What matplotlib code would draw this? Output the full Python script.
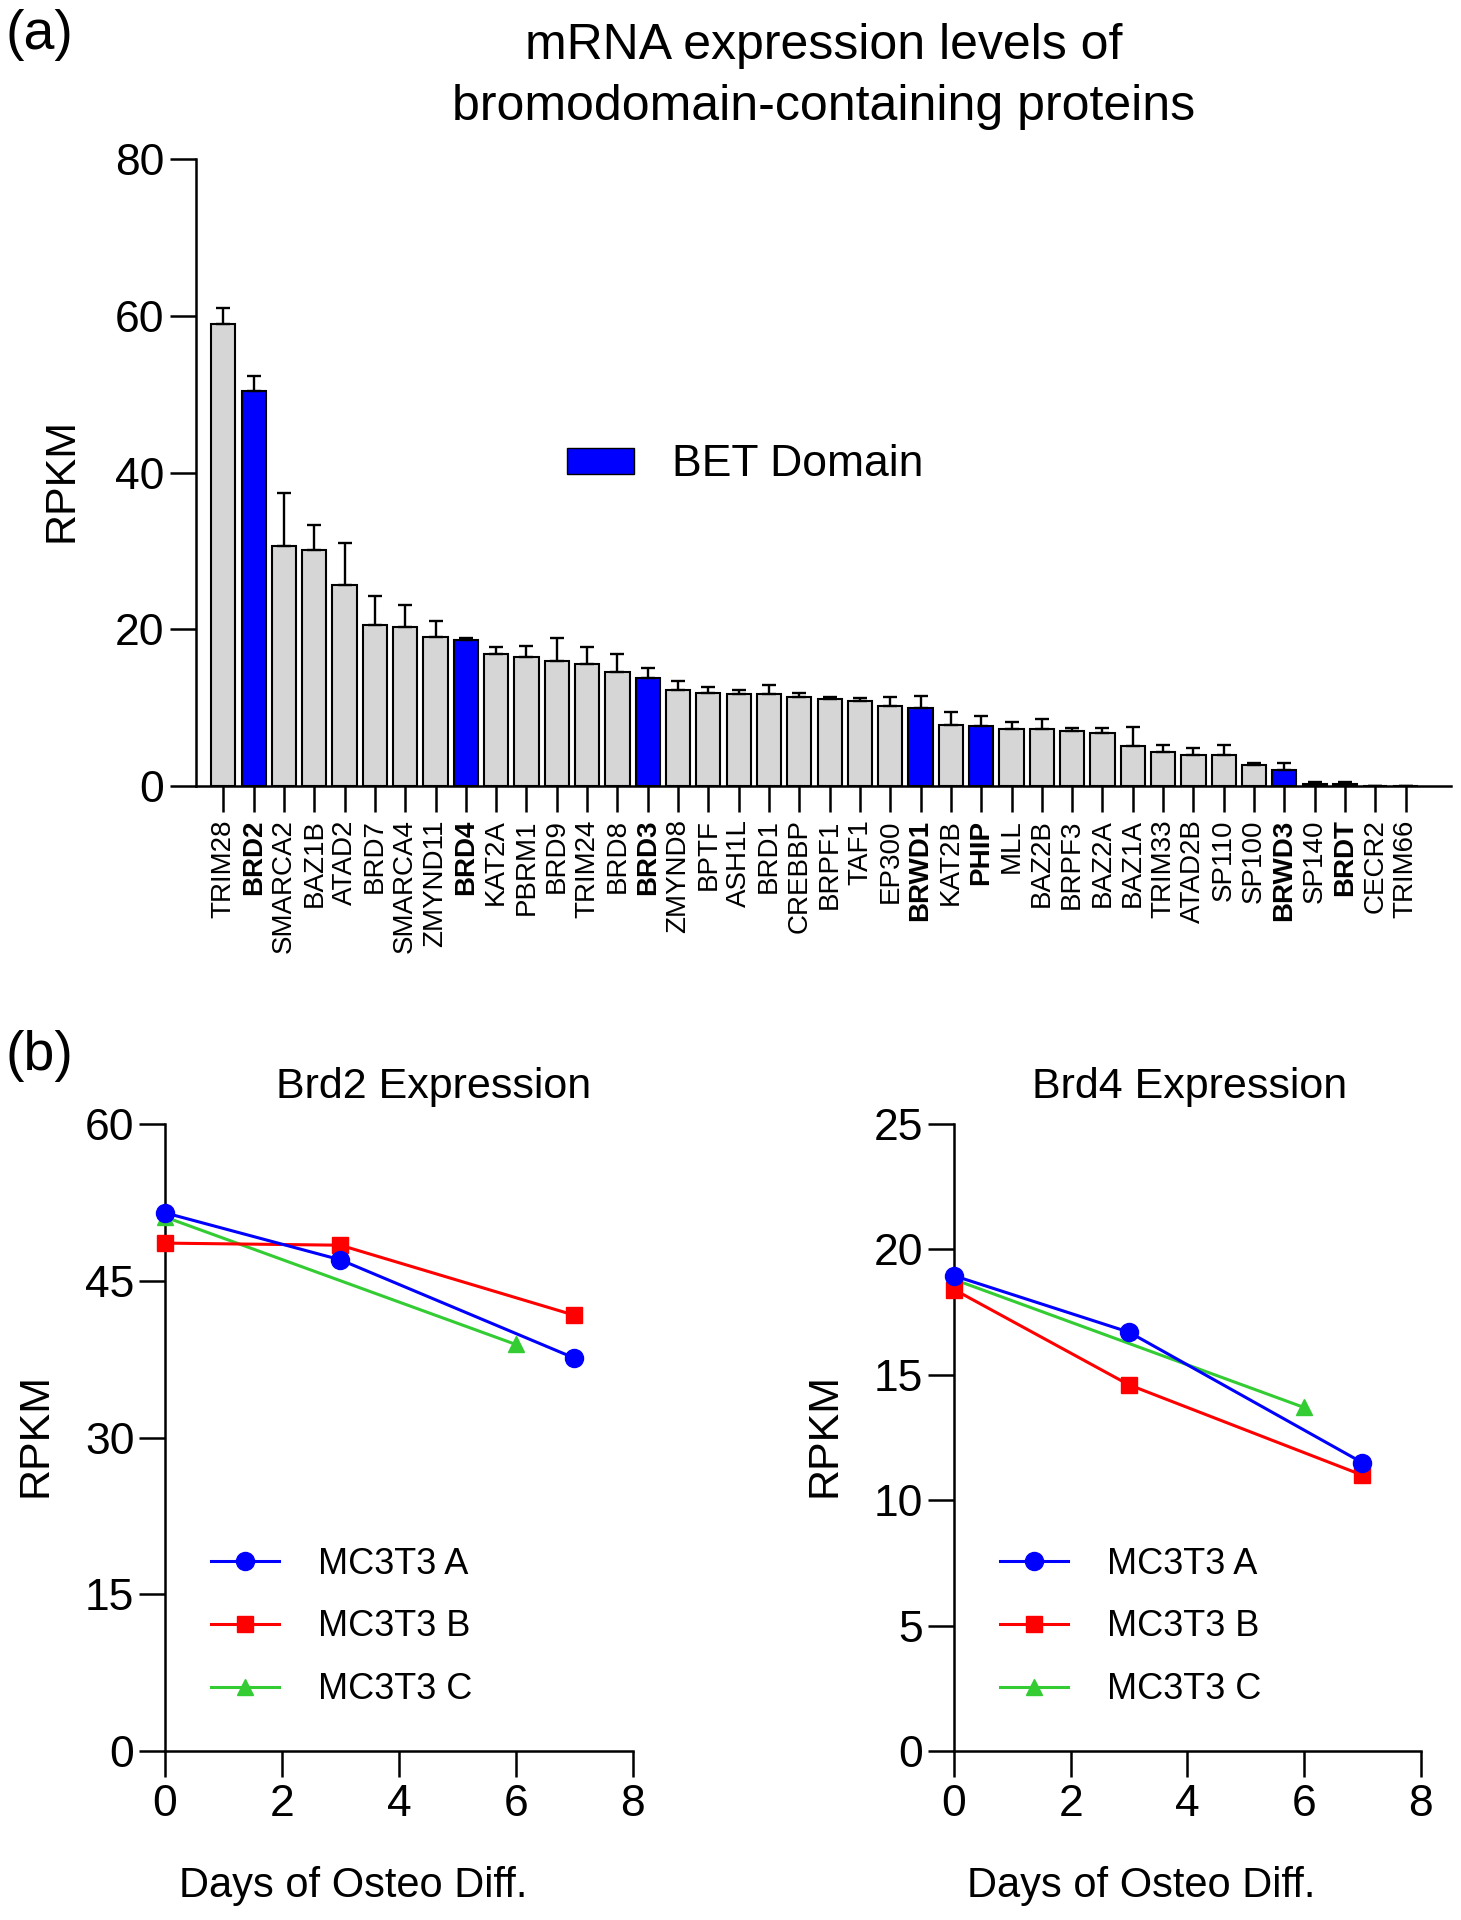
import numpy as np
import matplotlib
matplotlib.use("Agg")
import matplotlib.pyplot as plt
from matplotlib.patches import Patch

plt.rcParams['font.family'] = ['Liberation Sans', 'DejaVu Sans']

# (a) bromodomain genes, RPKM mean and upper error
genes = ['TRIM28', 'BRD2', 'SMARCA2', 'BAZ1B', 'ATAD2', 'BRD7', 'SMARCA4', 'ZMYND11',
         'BRD4', 'KAT2A', 'PBRM1', 'BRD9', 'TRIM24', 'BRD8', 'BRD3', 'ZMYND8', 'BPTF',
         'ASH1L', 'BRD1', 'CREBBP', 'BRPF1', 'TAF1', 'EP300', 'BRWD1', 'KAT2B', 'PHIP',
         'MLL', 'BAZ2B', 'BRPF3', 'BAZ2A', 'BAZ1A', 'TRIM33', 'ATAD2B', 'SP110', 'SP100',
         'BRWD3', 'SP140', 'BRDT', 'CECR2', 'TRIM66']
rpkm = [59.0, 50.4, 30.6, 30.1, 25.6, 20.6, 20.3, 19.0, 18.6, 16.8, 16.4, 16.0, 15.6,
        14.5, 13.8, 12.2, 11.9, 11.8, 11.8, 11.4, 11.1, 10.8, 10.2, 9.9, 7.8, 7.7, 7.3,
        7.3, 7.0, 6.8, 5.1, 4.4, 4.0, 4.0, 2.7, 2.0, 0.3, 0.3, 0.0, 0.0]
err = [2.0, 1.9, 6.8, 3.2, 5.4, 3.7, 2.8, 2.0, 0.3, 1.0, 1.5, 2.9, 2.2, 2.4, 1.3, 1.2,
       0.7, 0.5, 1.1, 0.5, 0.3, 0.4, 1.2, 1.6, 1.6, 1.2, 0.9, 1.3, 0.4, 0.6, 2.4, 0.8,
       0.9, 1.3, 0.2, 0.9, 0.2, 0.2, 0.0, 0.0]
bet = ['BRD2', 'BRD4', 'BRD3', 'BRWD1', 'PHIP', 'BRWD3', 'BRDT']

# (b) time course
days_ab = [0, 3, 7]
days_c = [0, 6]
brd2_a = [51.5, 47.0, 37.6]
brd2_b = [48.6, 48.4, 41.7]
brd2_c = [51.1, 38.9]
brd4_a = [18.95, 16.7, 11.5]
brd4_b = [18.4, 14.6, 11.0]
brd4_c = [18.8, 13.7]

fig = plt.figure(figsize=(14.61, 19.2), dpi=100)

lw_ax = 1.8
tick_len = 19

# ---- panel (a)
ax = fig.add_axes([0.1342, 0.5906, 0.859, 0.3266])
x = np.arange(len(genes))
cols = ['#0000ff' if g in bet else '#d6d6d6' for g in genes]
ax.bar(x, rpkm, width=0.8, color=cols, edgecolor='black', linewidth=1.5,
       yerr=[np.zeros(len(err)), err], capsize=5,
       error_kw=dict(elinewidth=1.7, capthick=1.7, ecolor='black'), zorder=2)
ax.set_xlim(-0.9, 40.5)
ax.set_ylim(0, 80)
ax.set_yticks([0, 20, 40, 60, 80])
ax.set_xticks(x)
ax.set_xticklabels(genes, rotation=90, fontsize=20)
for lab in ax.get_xticklabels():
    if lab.get_text() in bet:
        lab.set_fontweight('bold')
ax.tick_params(axis='y', labelsize=32, width=lw_ax, length=tick_len, pad=4)
ax.tick_params(axis='x', width=lw_ax, length=tick_len, pad=5)
for s in ['top', 'right']:
    ax.spines[s].set_visible(False)
for s in ['left', 'bottom']:
    ax.spines[s].set_linewidth(lw_ax)
ax.set_ylabel('RPKM', fontsize=31, va='center')
ax.yaxis.set_label_coords(-0.1076, 0.488)
ax.legend(handles=[Patch(facecolor='#0000ff', edgecolor='black', label='BET Domain')],
          loc='center left', bbox_to_anchor=(0.2956, 0.512), frameon=False, fontsize=32,
          handlelength=1.5, handleheight=0.52, handletextpad=0.86,
          borderaxespad=0, borderpad=0)

fig.text(0.564, 0.9758, 'mRNA expression levels of', ha='center', va='center', fontsize=36)
fig.text(0.564, 0.9445, 'bromodomain-containing proteins', ha='center', va='center', fontsize=36)
fig.text(0.004, 0.982, '(a)', ha='left', va='center', fontsize=40)
fig.text(0.004, 0.450, '(b)', ha='left', va='center', fontsize=40)


def line_panel(rect, a, b, c, ymax, step, title, tx):
    axl = fig.add_axes(rect)
    axl.plot(days_ab, a, color='#0000ff', marker='o', markersize=13, lw=2.2, label='MC3T3 A', zorder=3)
    axl.plot(days_ab, b, color='#ff0000', marker='s', markersize=12, lw=2.2, label='MC3T3 B', zorder=2)
    axl.plot(days_c, c, color='#33cc33', marker='^', markersize=12, lw=2.2, label='MC3T3 C', zorder=1)
    axl.set_xlim(0, 8)
    axl.set_ylim(0, ymax)
    axl.set_xticks([0, 2, 4, 6, 8])
    axl.set_yticks(np.arange(0, ymax + 0.1, step))
    axl.tick_params(labelsize=32, width=lw_ax, length=tick_len)
    axl.tick_params(axis='x', pad=5)
    axl.tick_params(axis='y', pad=3)
    for s in ['top', 'right']:
        axl.spines[s].set_visible(False)
    for s in ['left', 'bottom']:
        axl.spines[s].set_linewidth(lw_ax)
    axl.spines['left'].set_zorder(0)
    axl.set_xlabel('Days of Osteo Diff.', fontsize=30, va='center')
    axl.xaxis.set_label_coords(0.402, -0.215)
    axl.set_ylabel('RPKM', fontsize=31, va='center')
    axl.yaxis.set_label_coords(-0.277, 0.504)
    axl.legend(loc='center left', bbox_to_anchor=(0.0975, 0.198), frameon=False, fontsize=26,
               handlelength=1.9, labelspacing=0.77, handletextpad=1.08,
               borderaxespad=0, borderpad=0)
    axl.patch.set_alpha(0)
    for artist in axl.lines:
        artist.set_clip_on(False)
    fig.text(tx, 0.4339, title, ha='center', va='center', fontsize=31)
    return axl


line_panel([0.1129, 0.088, 0.3203, 0.3266], brd2_a, brd2_b, brd2_c, 60, 15, 'Brd2 Expression', 0.2967)
line_panel([0.653, 0.088, 0.3193, 0.3266], brd4_a, brd4_b, brd4_c, 25, 5, 'Brd4 Expression', 0.814)

fig.savefig('out.png', dpi=100)
